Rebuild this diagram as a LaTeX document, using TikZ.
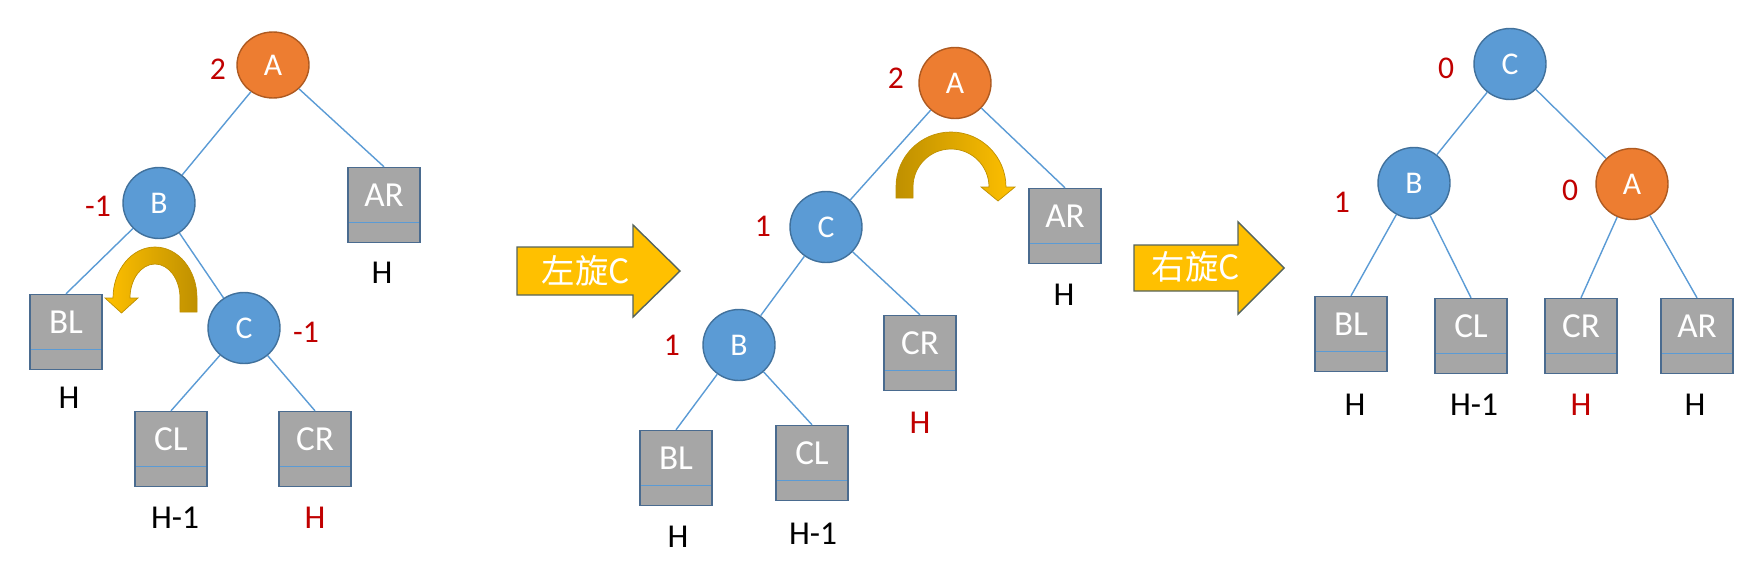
\documentclass[tikz,border=0pt]{standalone}
\usepackage{fontspec}
\setmainfont{Carlito}
\newfontfamily\cjk{Noto Sans CJK SC}
\usetikzlibrary{shapes.geometric}
\definecolor{nodeblue}{HTML}{5B9BD5}
\definecolor{nodeblueline}{HTML}{41719C}
\definecolor{nodeorange}{HTML}{ED7D31}
\definecolor{nodeorangeline}{HTML}{AE5A21}
\definecolor{leafgray}{HTML}{A6A6A6}
\definecolor{leafline}{HTML}{4A6B8F}
\definecolor{bfred}{HTML}{C00000}
\definecolor{arrowgold}{HTML}{FFC000}
\definecolor{arrowline}{HTML}{56645C}
\definecolor{arcdark}{HTML}{BF9000}
\tikzset{
  vtx/.style={ellipse, draw=nodeblueline, fill=nodeblue, line width=0.8pt,
    minimum width=1.44cm, minimum height=1.42cm, inner sep=0pt, text=white,
    font=\fontsize{18}{21}\selectfont},
  vtxa/.style={vtx, draw=nodeorangeline, fill=nodeorange},
  leaf/.style={rectangle, draw=leafline, fill=leafgray, line width=0.8pt,
    minimum width=1.44cm, minimum height=1.5cm, inner sep=0pt, text=white,
    text height=0.52cm, text depth=0.45cm, font=\fontsize{20}{24}\selectfont,
    path picture={\draw[nodeblue, line width=0.8pt]
      ([yshift=0.4cm]path picture bounding box.south west) --
      ([yshift=0.4cm]path picture bounding box.south east);}},
  bf/.style={text=bfred, font=\fontsize{18}{21}\selectfont},
  ht/.style={font=\fontsize{19}{23}\selectfont},
  link/.style={draw=nodeblue, line width=0.8pt},
  rotarrow/.style={fill=arrowgold, draw=arrowline, line width=0.8pt},
  rottext/.style={text=white, font=\cjk\fontsize{19}{22}\selectfont},
  curl/.style={draw=arcdark, line width=0.4pt}
}
\begin{document}
\begin{tikzpicture}[x=0.02cm, y=0.02cm]
    \useasboundingbox (0,0) rectangle (1745,576);

    % before rotation
    \node[vtxa, minimum height=1.32cm] (a1) at (273,511) {A};
    \node[vtx] (b1) at (159,373) {B};
    \node[vtx] (c1) at (244,248) {C};
    \node[leaf] (ar1) at (384,371) {AR};
    \node[leaf] (bl1) at (66,244) {BL};
    \node[leaf] (cl1) at (171,127) {CL};
    \node[leaf] (cr1) at (315,127) {CR};

    \node[bf] (bfa1) at (218,507) {2};
    \node[bf] (bfb1) at (98,370) {-1};
    \node[bf] (bfc1) at (306,244) {-1};
    \node[ht] (har1) at (382,303) {H};
    \node[ht] (hbl1) at (69,178) {H};
    \node[ht] (hcl1) at (175,58) {H-1};
    \node[ht, text=bfred] (hcr1) at (315,58) {H};

    \draw[link] (a1) -- (b1);
    \draw[link] (a1) -- (ar1.north);
    \draw[link] (b1) -- (bl1.north);
    \draw[link] (b1) -- (c1);
    \draw[link] (c1) -- (cl1.north);
    \draw[link] (c1) -- (cr1.north);

    \draw[curl, left color=arrowgold, right color=arcdark] (180,264) -- (197,264) -- (197,278)
        arc[start angle=0, end angle=180, x radius=0.84cm, y radius=1.02cm] -- (105,278) -- (121.5,263) -- (138,278) -- (130,278)
        arc[start angle=180, end angle=0, x radius=0.5cm, y radius=0.68cm] -- cycle;

    \draw[rotarrow] (517,281) -- (633,281) -- (633,259) -- (680,305) -- (633,351) -- (633,329) -- (517,329) -- cycle;
    \node[rottext] (rot1) at (586,305) {左旋C};

    % after left rotation
    \node[vtxa] (a2) at (955,493) {A};
    \node[vtx] (c2) at (826,349) {C};
    \node[vtx] (b2) at (739,231) {B};
    \node[leaf] (ar2) at (1065,350) {AR};
    \node[leaf] (cr2) at (920,223) {CR};
    \node[leaf] (bl2) at (676,108) {BL};
    \node[leaf] (cl2) at (812,113) {CL};

    \node[bf] (bfa2) at (896,498) {2};
    \node[bf] (bfc2) at (763,350) {1};
    \node[bf] (bfb2) at (672,231) {1};
    \node[ht] (har2) at (1064,281) {H};
    \node[ht, text=bfred] (hcr2) at (920,153) {H};
    \node[ht] (hbl2) at (678,39) {H};
    \node[ht] (hcl2) at (813,42) {H-1};

    \draw[link] (a2) -- (c2);
    \draw[link] (a2) -- (ar2.north);
    \draw[link] (c2) -- (b2);
    \draw[link] (c2) -- (cr2.north);
    \draw[link] (b2) -- (bl2.north);
    \draw[link] (b2) -- (cl2.north);

    \draw[curl, left color=arcdark, right color=arrowgold] (913,378) -- (896,378) -- (896,389)
        arc[start angle=180, end angle=0, radius=1.1cm] -- (1015,389) -- (998,375) -- (981,389) -- (989,389)
        arc[start angle=0, end angle=180, radius=0.76cm] -- cycle;

    \draw[rotarrow] (1134,285) -- (1238,285) -- (1238,262) -- (1284,308) -- (1238,354) -- (1238,331) -- (1134,331) -- cycle;
    \node[rottext] (rot2) at (1196,309) {右旋C};

    % after right rotation
    \node[vtx] (c3) at (1510,512) {C};
    \node[vtx] (b3) at (1414,393) {B};
    \node[vtxa] (a3) at (1632,392) {A};
    \node[leaf] (bl3) at (1351,242) {BL};
    \node[leaf] (cl3) at (1471,240) {CL};
    \node[leaf] (cr3) at (1581,240) {CR};
    \node[leaf] (ar3) at (1697,240) {AR};

    \node[bf] (bfc3) at (1446,508) {0};
    \node[bf] (bfb3) at (1342,374) {1};
    \node[bf] (bfa3) at (1570,386) {0};
    \node[ht] (hbl3) at (1355,171) {H};
    \node[ht] (hcl3) at (1474,171) {H-1};
    \node[ht, text=bfred] (hcr3) at (1581,171) {H};
    \node[ht] (har3) at (1695,171) {H};

    \draw[link] (c3) -- (b3);
    \draw[link] (c3) -- (a3);
    \draw[link] (b3) -- (bl3.north);
    \draw[link] (b3) -- (cl3.north);
    \draw[link] (a3) -- (cr3.north);
    \draw[link] (a3) -- (ar3.north);
\end{tikzpicture}
\end{document}
